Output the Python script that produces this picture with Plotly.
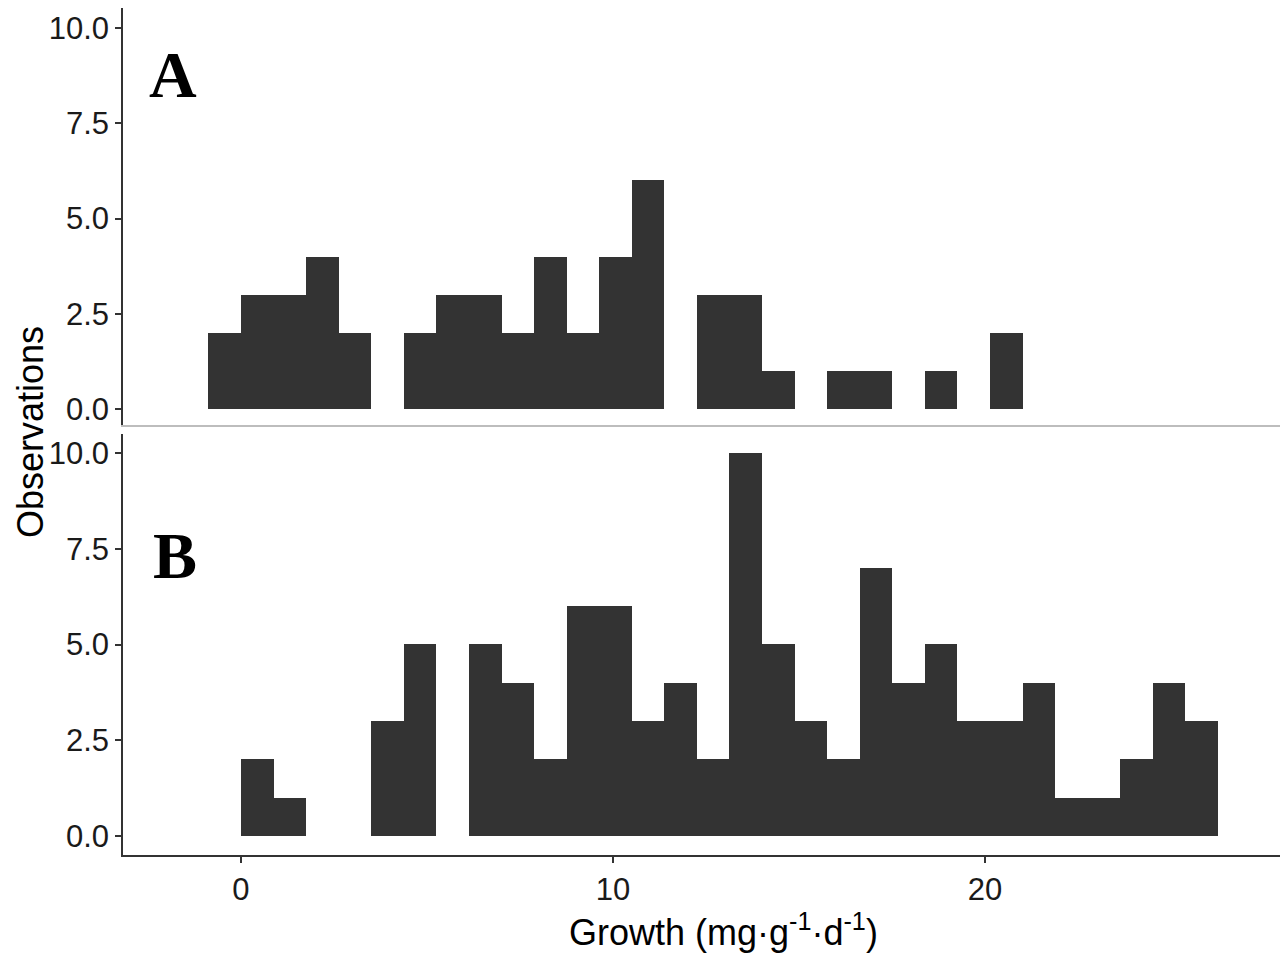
import plotly.graph_objects as go

# Histogram bin layout (shared by both panels)
bin_width = 0.8755
first_bin_a = -1   # panel A starts one bin left of zero
first_bin_b = 0

# Counts per bin
counts_a = [2, 3, 3, 4, 2, 0, 2, 3, 3, 2, 4, 2, 4, 6, 0, 3, 3, 1, 0, 1, 1, 0, 1, 0, 2]
counts_b = [2, 1, 0, 0, 3, 5, 0, 5, 4, 2, 6, 6, 3, 4, 2, 10, 5, 3, 2, 7, 4, 5, 3, 3, 4, 1, 1, 2, 4, 3]

y_ticks = [0, 2.5, 5, 7.5, 10]
x_ticks = [0, 10, 20]

panel_labels = ["A", "B"]
x_title = "Growth (mg·g<sup>-1</sup>·d<sup>-1</sup>)"
y_title = "Observations"


def centers(first, n):
    return [(first + i + 0.5) * bin_width for i in range(n)]


bar_color = "#333333"
fig = go.Figure()
fig.add_trace(go.Bar(x=centers(first_bin_a, len(counts_a)), y=counts_a,
                     width=bin_width, marker=dict(color=bar_color, line=dict(width=0)),
                     xaxis="x", yaxis="y", showlegend=False))
fig.add_trace(go.Bar(x=centers(first_bin_b, len(counts_b)), y=counts_b,
                     width=bin_width, marker=dict(color=bar_color, line=dict(width=0)),
                     xaxis="x2", yaxis="y2", showlegend=False))

tick_font = dict(family="Liberation Sans, Arial, sans-serif", size=31, color="#1a1a1a")
x_range = [-3.17, 27.93]

yaxis_common = dict(tickvals=y_ticks, tickformat=".1f", ticks="outside", ticklen=6,
                    tickwidth=1.5, tickcolor="#333333", showline=True, linecolor="#333333",
                    linewidth=1.5, showgrid=False, zeroline=False, tickfont=tick_font)

fig.update_layout(
    width=1281, height=957,
    margin=dict(l=123, r=1, t=8, b=102),
    paper_bgcolor="white", plot_bgcolor="white",
    bargap=0,
    xaxis=dict(domain=[0, 1], range=x_range, anchor="y", showticklabels=False,
               ticks="", showline=True, linecolor="#bdbdbd", linewidth=2,
               showgrid=False, zeroline=False, matches="x2"),
    yaxis=dict(domain=[0.5077, 1], range=[-0.41, 10.52], anchor="x", **yaxis_common),
    xaxis2=dict(domain=[0, 1], range=x_range, anchor="y2", tickvals=x_ticks,
                ticks="outside", ticklen=6, tickwidth=1.5, tickcolor="#333333",
                showline=True, linecolor="#333333", linewidth=1.5,
                showgrid=False, zeroline=False, tickfont=tick_font),
    yaxis2=dict(domain=[0, 0.497], range=[-0.5, 10.5], anchor="x2", **yaxis_common),
)

label_font = dict(family="Liberation Serif, Times New Roman, serif", size=66, color="black")
fig.add_annotation(text="<b>%s</b>" % panel_labels[0], xref="paper", yref="paper",
                   x=0.0432, y=0.921, xanchor="center", yanchor="middle",
                   showarrow=False, font=label_font)
fig.add_annotation(text="<b>%s</b>" % panel_labels[1], xref="paper", yref="paper",
                   x=0.0450, y=0.354, xanchor="center", yanchor="middle",
                   showarrow=False, font=label_font)

title_font = dict(family="Liberation Sans, Arial, sans-serif", size=36, color="black")
fig.add_annotation(text=x_title, xref="paper", yref="paper", x=0.5186, y=-0.0886,
                   xanchor="center", yanchor="middle", showarrow=False, font=title_font)
fig.add_annotation(text=y_title, xref="paper", yref="paper", x=-0.0804, y=0.4994,
                   xanchor="center", yanchor="middle", textangle=-90,
                   showarrow=False, font=title_font)

fig.write_html("out.html")
